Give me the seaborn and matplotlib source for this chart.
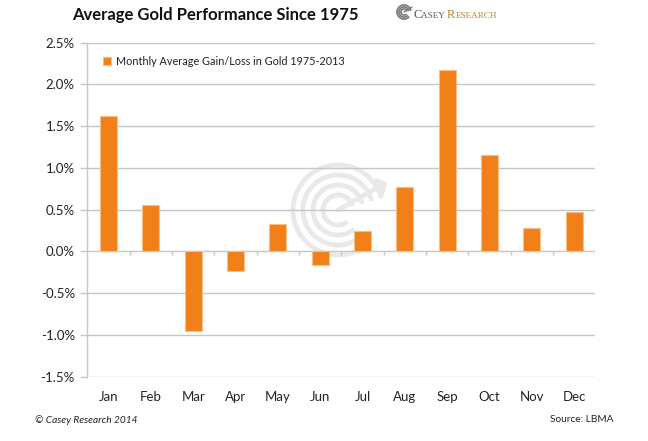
import matplotlib
matplotlib.use('Agg')
import matplotlib.pyplot as plt
import seaborn as sns
import pandas as pd
import numpy as np
from matplotlib.patches import Arc
from matplotlib.ticker import FuncFormatter

# ---- data ----
months = ['Jan', 'Feb', 'Mar', 'Apr', 'May', 'Jun', 'Jul', 'Aug', 'Sep', 'Oct', 'Nov', 'Dec']
gains = [1.62, 0.56, -0.95, -0.235, 0.33, -0.165, 0.24, 0.77, 2.17, 1.16, 0.275, 0.475]
series_label = 'Monthly Average Gain/Loss in Gold 1975-2013'
y_ticks = [-1.5, -1.0, -0.5, 0.0, 0.5, 1.0, 1.5, 2.0, 2.5]
title = 'Average Gold Performance Since 1975'
footer_left = '\u00a9 Casey Research 2014'
footer_right = 'Source: LBMA'

sns.set_theme(style='white')
plt.rcParams['font.family'] = ['Lato', 'DejaVu Sans']

W, H = 648, 441
fig = plt.figure(figsize=(W / 100, H / 100), dpi=100)

# watermark (behind main axes)
wax = fig.add_axes([0, 0, 1, 1], zorder=0)
wax.set_xlim(0, W)
wax.set_ylim(H, 0)
wax.axis('off')
cx, cy = 338, 210
wm = '#e9e9e9'
for r in [45, 35, 25, 15]:
    wax.add_patch(Arc((cx, cy), 2 * r, 2 * r, theta1=50, theta2=345, color=wm, lw=3.5))
wax.plot([cx, cx + 46], [cy, cy - 26], color=wm, lw=3.5)
wax.plot([cx + 38, cx + 47, cx + 44], [cy - 30, cy - 26, cy - 16], color=wm, lw=3)

# main axes
ax = fig.add_axes([87.3 / W, 1 - 376.7 / H, (595.3 - 87.3) / W, (376.7 - 42.7) / H], zorder=1)
ax.set_facecolor('none')
df = pd.DataFrame({'Month': months, 'Gain': gains})
sns.barplot(data=df, x='Month', y='Gain', color='#F28019', saturation=1, width=0.4,
            edgecolor='#F9BE86', linewidth=0.8, label=series_label, ax=ax, zorder=3)

ax.set_ylim(y_ticks[0], y_ticks[-1])
ax.set_xlim(-0.5, len(months) - 0.5)
ax.set_yticks(y_ticks)
ax.yaxis.set_major_formatter(FuncFormatter(lambda v, p: f'{v:.1f}%'))
ax.set_xlabel('')
ax.set_ylabel('')
ax.yaxis.grid(True, color='#c6c6c6', lw=1)
ax.xaxis.grid(False)
ax.set_axisbelow(True)
for s in ['top', 'right', 'bottom']:
    ax.spines[s].set_visible(False)
ax.spines['left'].set_color('#c6c6c6')
ax.spines['left'].set_linewidth(1)
ax.tick_params(axis='y', left=True, length=5, width=1, color='#c6c6c6', labelsize=9.5,
               pad=4, labelcolor='#222222')
ax.tick_params(axis='x', bottom=False, length=0, labelsize=9.5, pad=10, labelcolor='#222222')

# category boundary ticks on the zero line
bounds = np.arange(0.5, len(months), 1.0)
ax.vlines(bounds, 0, -0.045, color='#c6c6c6', lw=1, zorder=2)

leg = ax.legend(loc='center left', bbox_to_anchor=(0.031, 0.945), frameon=False,
                fontsize=7.8, handlelength=0.75, handleheight=0.75, handletextpad=0.45,
                borderpad=0, borderaxespad=0)
for t in leg.get_texts():
    t.set_color('#222222')

# title
fig.text(215 / W, 1 - 15 / H, title, ha='center', va='center', fontsize=12,
         fontweight='bold', color='#111111')

# logo
lax = fig.add_axes([0, 0, 1, 1], zorder=2)
lax.set_xlim(0, W)
lax.set_ylim(H, 0)
lax.axis('off')
lx, ly = 404, 12
for r in [7, 5, 3]:
    lax.add_patch(Arc((lx, ly), 2 * r, 2 * r, theta1=40, theta2=350, color='#777777', lw=1.2))
lax.plot([lx, lx + 8], [ly, ly - 5], color='#777777', lw=1)

renderer = fig.canvas.get_renderer()
x = 413
pieces = [('C', 9, '#555555'), ('ASEY ', 6.6, '#555555'), ('R', 9, '#B5862F'), ('ESEARCH', 6.6, '#B5862F')]
for txt, fs, col in pieces:
    t = lax.text(x, 17.5, txt, fontsize=fs, color=col, family=['Liberation Serif', 'DejaVu Serif'],
                 ha='left', va='baseline')
    bb = t.get_window_extent(renderer)
    x += bb.width

# footer
fig.text(35 / W, 1 - 420 / H, footer_left, ha='left', va='center', fontsize=7.3,
         style='italic', color='#222222')
fig.text(613 / W, 1 - 419 / H, footer_right, ha='right', va='center', fontsize=7.3,
         color='#222222')

fig.savefig('out.png', dpi=100)
